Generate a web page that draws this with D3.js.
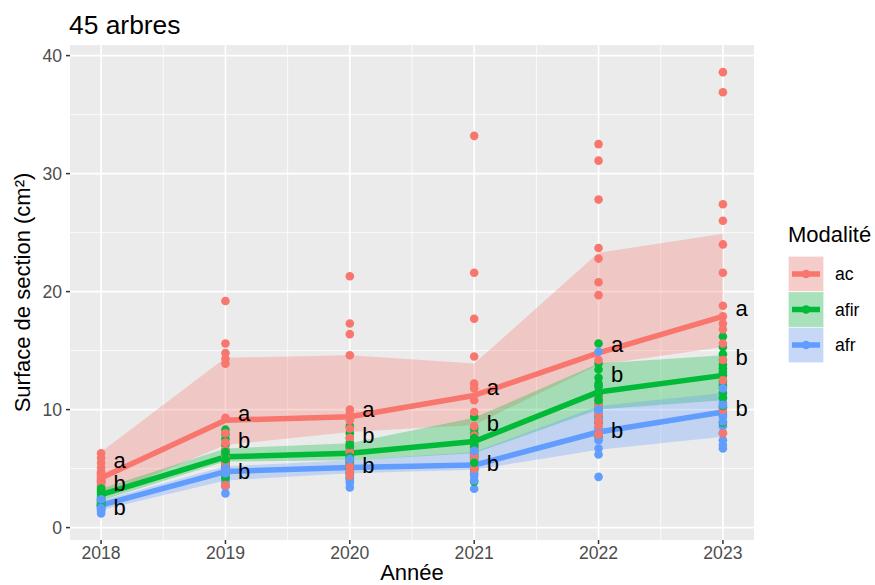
<!DOCTYPE html>
<html><head><meta charset="utf-8">
<script src="https://cdn.jsdelivr.net/npm/d3@7"></script>
<style>body{margin:0;background:#fff;} text{font-family:"Liberation Sans", Arial, sans-serif;}</style>
</head><body>
<svg id="chart" width="875" height="585"></svg>
<script>
const years = [2018, 2019, 2020, 2021, 2022, 2023];
const groups = ["ac", "afir", "afr"];
const colors = ["#F8766D", "#00BA38", "#619CFF"];
const yTicks = [0, 10, 20, 30, 40];
const title = "45 arbres";

// Individual tree values (cm²), per year
const acPoints = [
  [6.3, 5.9, 5.5, 5.1, 4.7, 4.6, 4.5, 4.4, 4.3, 4.2, 4.1, 4.0, 3.9, 3.8, 3.7],
  [19.2, 15.6, 14.8, 14.3, 13.9, 9.3, 4.3, 3.5, 8.0, 7.2, 6.6, 6.0, 5.4, 4.8, 3.6],
  [21.3, 17.3, 16.4, 14.6, 10.0, 9.6, 9.1, 8.4, 7.6, 7.0, 6.4, 5.8, 5.2, 4.8, 4.4],
  [33.2, 21.6, 17.7, 14.5, 12.2, 11.8, 10.8, 9.8, 8.6, 7.8, 7.0, 6.6, 6.2, 5.8, 5.0],
  [32.5, 31.1, 27.8, 23.7, 22.8, 20.8, 19.7, 14.2, 8.3, 11.0, 10.4, 9.6, 9.0, 8.6, 7.9],
  [38.6, 36.9, 27.4, 26.0, 24.0, 21.6, 18.8, 17.9, 17.3, 16.8, 15.6, 14.2, 12.5, 10.0, 8.0]
];
const afirPoints = [
  [3.9, 3.5, 3.2, 3.0, 2.8, 2.6, 2.5, 2.4, 2.3, 2.2, 2.1, 2.0, 1.9, 1.8, 3.3],
  [8.3, 7.9, 7.5, 7.0, 6.6, 6.2, 5.9, 5.7, 5.5, 5.3, 5.0, 4.6, 4.2, 6.4, 5.8],
  [8.6, 8.0, 7.6, 7.2, 6.8, 6.5, 6.2, 5.9, 5.6, 5.3, 5.0, 4.6, 4.2, 6.0, 7.0],
  [9.4, 8.4, 8.0, 7.7, 7.4, 7.1, 6.8, 6.5, 6.2, 6.0, 4.9, 3.9, 7.0, 7.6, 5.5],
  [15.6, 13.9, 13.4, 12.7, 12.2, 11.5, 11.0, 10.5, 10.0, 9.4, 8.9, 7.7, 12.0, 11.3, 10.8],
  [16.2, 15.3, 14.2, 13.5, 12.9, 12.4, 11.4, 9.55, 8.9, 13.8, 14.7, 12.0, 11.0, 10.3, 13.2]
];
const afrPoints = [
  [1.2, 1.4, 1.5, 1.6, 1.7, 1.8, 1.9, 2.0, 2.1, 2.2, 1.95, 2.3, 1.85, 2.4, 1.65],
  [5.3, 4.9, 4.0, 2.9, 5.8, 5.5, 5.1, 4.7, 4.5, 4.3, 4.2, 3.8, 3.5, 5.0, 4.6],
  [6.9, 5.7, 4.2, 3.4, 6.4, 6.0, 5.5, 5.3, 5.1, 4.9, 4.7, 4.5, 4.0, 3.8, 5.8],
  [6.3, 5.3, 3.3, 6.8, 6.0, 5.8, 5.6, 5.4, 5.1, 4.9, 4.6, 4.4, 4.0, 5.2, 6.5],
  [14.9, 11.9, 10.8, 10.3, 9.7, 8.9, 6.7, 6.2, 4.3, 9.2, 8.4, 7.9, 7.4, 8.0, 10.0],
  [12.1, 11.4, 11.0, 10.6, 8.6, 8.0, 7.4, 6.7, 10.2, 9.8, 9.4, 9.0, 7.0, 11.8, 10.4]
];

// Mean lines
const acMean = [4.2, 9.1, 9.4, 11.2, 14.8, 17.9];
const afirMean = [2.8, 6.0, 6.3, 7.3, 11.5, 12.9];
const afrMean = [1.9, 4.75, 5.1, 5.3, 8.1, 9.8];
// Ribbons
const acLow = [2.6, 7.0, 8.1, 8.7, 13.8, 15.3];
const acHigh = [6.4, 14.4, 14.6, 13.9, 23.3, 24.9];
const afirLow = [2.3, 5.6, 5.7, 6.3, 10.0, 10.8];
const afirHigh = [3.3, 6.7, 7.15, 9.3, 13.9, 14.6];
const afrLow = [1.5, 4.0, 4.6, 4.9, 6.6, 7.7];
const afrHigh = [2.3, 5.2, 5.7, 6.4, 10.3, 11.4];
// Letter labels (position and text)
const acLetters = ["a", "a", "a", "a", "a", "a"];
const afirLetters = ["b", "b", "b", "b", "b", "b"];
const afrLetters = ["b", "b", "b", "b", "b", "b"];
const acLabelY = [5.54, 9.55, 9.83, 11.73, 15.34, 18.39];
const afirLabelY = [3.76, 7.43, 7.86, 8.85, 13.03, 14.49];
const afrLabelY = [1.78, 4.75, 5.31, 5.51, 8.28, 10.12];

const series = [
  {name: groups[0], color: colors[0], pts: acPoints, mean: acMean, lo: acLow, hi: acHigh, lab: acLetters, labY: acLabelY},
  {name: groups[1], color: colors[1], pts: afirPoints, mean: afirMean, lo: afirLow, hi: afirHigh, lab: afirLetters, labY: afirLabelY},
  {name: groups[2], color: colors[2], pts: afrPoints, mean: afrMean, lo: afrLow, hi: afrHigh, lab: afrLetters, labY: afrLabelY}
];

const svg = d3.select("#chart");
const P = {l: 70, r: 754, t: 45, b: 540};
const x = d3.scaleLinear().domain([2017.75, 2023.25]).range([P.l, P.r]);
const y = d3.scaleLinear().domain([-1.05, 40.9]).range([P.b, P.t]);

// panel
svg.append("rect").attr("x", P.l).attr("y", P.t).attr("width", P.r - P.l).attr("height", P.b - P.t).attr("fill", "#EBEBEB");
const grid = svg.append("g");
[5, 15, 25, 35].forEach(v => grid.append("line").attr("x1", P.l).attr("x2", P.r).attr("y1", y(v)).attr("y2", y(v)).attr("stroke", "#fff").attr("stroke-width", 0.8));
[2018.5, 2019.5, 2020.5, 2021.5, 2022.5].forEach(v => grid.append("line").attr("y1", P.t).attr("y2", P.b).attr("x1", x(v)).attr("x2", x(v)).attr("stroke", "#fff").attr("stroke-width", 0.8));
yTicks.forEach(v => grid.append("line").attr("x1", P.l).attr("x2", P.r).attr("y1", y(v)).attr("y2", y(v)).attr("stroke", "#fff").attr("stroke-width", 1.6));
years.forEach(v => grid.append("line").attr("y1", P.t).attr("y2", P.b).attr("x1", x(v)).attr("x2", x(v)).attr("stroke", "#fff").attr("stroke-width", 1.6));

// ribbons
const area = d3.area().x((d, i) => x(years[i])).y0(d => y(d[0])).y1(d => y(d[1]));
series.forEach(s => {
  svg.append("path").datum(s.lo.map((v, i) => [v, s.hi[i]])).attr("d", area).attr("fill", s.color).attr("fill-opacity", 0.3);
});
// lines
const line = d3.line().x((d, i) => x(years[i])).y(d => y(d));
series.forEach(s => {
  svg.append("path").datum(s.mean).attr("d", line).attr("fill", "none").attr("stroke", s.color).attr("stroke-width", 5.5).attr("stroke-linejoin", "round");
});
// points, drawn tree by tree (interleaving the groups)
const flat = [];
years.forEach((yr, i) => {
  for (let k = 0; k < 15; k++) {
    series.forEach(s => flat.push({x: yr, v: s.pts[i][k], c: s.color}));
  }
});
svg.append("g").selectAll("circle").data(flat).join("circle")
  .attr("cx", d => x(d.x)).attr("cy", d => y(d.v)).attr("r", 4.3).attr("fill", d => d.c);
// letters
series.forEach(s => {
  svg.append("g").selectAll("text").data(s.lab).join("text")
    .attr("x", (d, i) => x(years[i] + 0.15)).attr("y", (d, i) => y(s.labY[i]))
    .attr("dy", d => d === "a" ? "0.26em" : "0.36em")
    .attr("text-anchor", "middle").attr("font-size", 22).attr("fill", "#000").text(d => d);
});

// axes
const ya = svg.append("g");
yTicks.forEach(v => {
  ya.append("line").attr("x1", P.l - 4).attr("x2", P.l).attr("y1", y(v)).attr("y2", y(v)).attr("stroke", "#333").attr("stroke-width", 1.5);
  ya.append("text").attr("x", P.l - 8).attr("y", y(v)).attr("dy", "0.36em").attr("text-anchor", "end").attr("font-size", 17.6).attr("fill", "#4D4D4D").text(v);
});
const xa = svg.append("g");
years.forEach(v => {
  xa.append("line").attr("x1", x(v)).attr("x2", x(v)).attr("y1", P.b).attr("y2", P.b + 4).attr("stroke", "#333").attr("stroke-width", 1.5);
  xa.append("text").attr("x", x(v)).attr("y", 559).attr("text-anchor", "middle").attr("font-size", 17.6).attr("fill", "#4D4D4D").text(v);
});
svg.append("text").attr("x", (P.l + P.r) / 2).attr("y", 580).attr("text-anchor", "middle").attr("font-size", 22).attr("fill", "#000").text("Année");
svg.append("text").attr("transform", `translate(30,${(P.t + P.b) / 2}) rotate(-90)`).attr("text-anchor", "middle").attr("font-size", 22).attr("fill", "#000").text("Surface de section (cm²)");
svg.append("text").attr("x", 69).attr("y", 34).attr("font-size", 26.4).attr("fill", "#000").text(title);

// legend
const lg = svg.append("g");
lg.append("text").attr("x", 788).attr("y", 242).attr("font-size", 22).attr("fill", "#000").text("Modalité");
series.forEach((s, i) => {
  const ky = 256.5 + i * 35.5;
  lg.append("rect").attr("x", 788.5).attr("y", ky).attr("width", 35).attr("height", 35).attr("fill", "#F2F2F2").attr("stroke", "#fff").attr("stroke-width", 1);
  lg.append("rect").attr("x", 788.5).attr("y", ky).attr("width", 35).attr("height", 35).attr("fill", s.color).attr("fill-opacity", 0.3);
  lg.append("line").attr("x1", 792).attr("x2", 820).attr("y1", ky + 17.5).attr("y2", ky + 17.5).attr("stroke", s.color).attr("stroke-width", 5.5);
  lg.append("circle").attr("cx", 806).attr("cy", ky + 17.5).attr("r", 4.3).attr("fill", s.color);
  lg.append("text").attr("x", 835).attr("y", ky + 17.5).attr("dy", "0.36em").attr("font-size", 17.6).attr("fill", "#000").text(s.name);
});
</script>
</body></html>
